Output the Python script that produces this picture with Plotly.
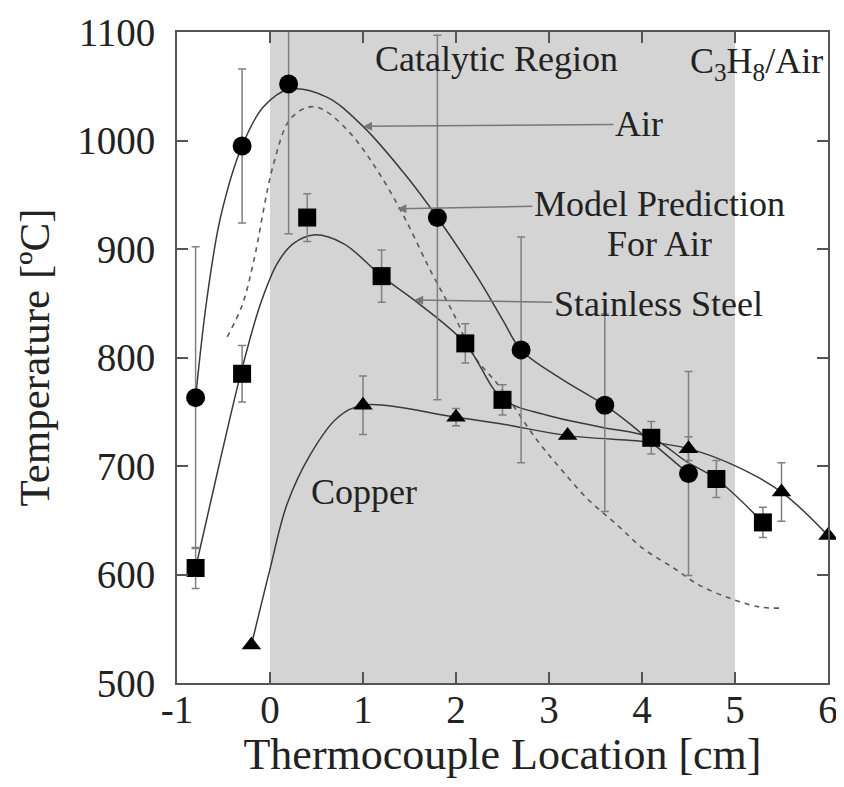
import plotly.graph_objects as go

air_x = [-0.8, -0.3, 0.2, 1.8, 2.7, 3.6, 4.5]
air_y = [763, 995, 1052, 929, 807, 756, 693]
air_err_plus = [139, 71, 138, 168, 104, 84, 94]
air_err_minus = [139, 71, 138, 168, 104, 98, 94]

ss_x = [-0.8, -0.3, 0.4, 1.2, 2.1, 2.5, 4.1, 4.8, 5.3]
ss_y = [606, 785, 929, 875, 813, 761, 726, 688, 648]
ss_err = [19, 26, 22, 24, 18, 14, 15, 17, 14]

cu_x = [-0.2, 1.0, 2.0, 3.2, 4.5, 5.5, 6.0]
cu_y = [535, 756, 745, 728, 716, 676, 636]
cu_err = [0, 27, 8, 0, 11, 27, 0]

# ---- fitted curves ----
air_fit_x = [-0.8, -0.68, -0.53, -0.3, -0.07, 0.2, 0.61, 1.0, 1.44, 1.8, 2.23, 2.5, 2.7, 3.12, 3.6, 3.91, 4.1, 4.5]
air_fit_y = [763, 853, 930, 995, 1031, 1047, 1040, 1013, 970, 929, 874, 835, 807, 781, 756, 736, 722, 693]

ss_fit_x = [-0.8, -0.55, -0.3, -0.1, 0.08, 0.25, 0.47, 0.79, 1.2, 1.58, 2.1, 2.5, 2.97, 3.55, 4.1, 4.48, 4.8, 5.3]
ss_fit_y = [606, 700, 790, 850, 887, 905, 913, 905, 875, 851, 813, 762, 747, 736, 726, 704, 688, 648]

cu_fit_x = [-0.2, 0.0, 0.18, 0.43, 0.72, 1.0, 2.0, 2.48, 3.2, 4.1, 4.5, 4.98, 5.5, 6.0]
cu_fit_y = [535, 605, 664, 710, 744, 756, 745, 739, 728, 722, 716, 701, 676, 636]

model_x = [-0.46, -0.3, -0.18, 0.04, 0.22, 0.43, 0.58, 0.86, 1.15, 1.44, 1.72, 1.97, 2.19, 2.48, 2.87, 3.12, 3.41, 3.73, 4.01, 4.34, 4.62, 4.98, 5.27, 5.48]
model_y = [819, 848, 887, 979, 1020, 1031, 1028, 1007, 973, 930, 881, 841, 802, 772, 724, 698, 670, 646, 624, 606, 590, 577, 570, 569]

x_ticks = [-1, 0, 1, 2, 3, 4, 5, 6]
y_ticks = [500, 600, 700, 800, 900, 1000, 1100]
catalytic_start, catalytic_end = 0, 5

FONT = "Liberation Serif, Times New Roman, serif"
LINE = "#3a3a3a"
ERR = "#808080"
TXT = "#222222"

fig = go.Figure()

# curves
fig.add_trace(go.Scatter(x=model_x, y=model_y, mode="lines",
                         line=dict(color="#5a5a5a", width=1.6, dash="5px,5px", shape="spline", smoothing=1.0),
                         hoverinfo="skip", showlegend=False))
for fx, fy in [(air_fit_x, air_fit_y), (ss_fit_x, ss_fit_y), (cu_fit_x, cu_fit_y)]:
    fig.add_trace(go.Scatter(x=fx, y=fy, mode="lines",
                             line=dict(color=LINE, width=1.5, shape="spline", smoothing=1.0),
                             hoverinfo="skip", showlegend=False))

# markers with error bars
fig.add_trace(go.Scatter(x=air_x, y=air_y, mode="markers",
                         marker=dict(symbol="circle", size=19, color="black"),
                         error_y=dict(type="data", array=air_err_plus, arrayminus=air_err_minus,
                                      symmetric=False, color=ERR, thickness=1.5, width=4),
                         showlegend=False))
fig.add_trace(go.Scatter(x=ss_x, y=ss_y, mode="markers",
                         marker=dict(symbol="square", size=18, color="black"),
                         error_y=dict(type="data", array=ss_err, color=ERR, thickness=1.5, width=4),
                         showlegend=False))
fig.add_trace(go.Scatter(x=cu_x, y=cu_y, mode="markers", cliponaxis=False,
                         marker=dict(symbol="triangle-up", size=17, color="black"),
                         error_y=dict(type="data", array=cu_err, color=ERR, thickness=1.5, width=4),
                         showlegend=False))

# catalytic region shading
fig.add_shape(type="rect", xref="x", yref="paper", x0=catalytic_start, x1=catalytic_end, y0=0, y1=1,
              fillcolor="#d4d4d4", line=dict(width=0), layer="below")

ann_font = dict(family=FONT, size=36, color=TXT)
arrow = dict(showarrow=True, arrowhead=2, arrowsize=1.2, arrowwidth=1.5, arrowcolor="#777777")
fig.add_annotation(x=1.0, y=1013, text="Air", ax=276, ay=-2, font=ann_font, **arrow)
fig.add_annotation(x=1.37, y=937, text="Model Prediction", ax=262, ay=-5, font=ann_font, **arrow)
fig.add_annotation(x=4.19, y=905, text="For Air", showarrow=False, font=ann_font)
fig.add_annotation(x=1.55, y=853, text="Stainless Steel", ax=244, ay=4, font=ann_font, **arrow)
fig.add_annotation(x=1.01, y=676, text="Copper", showarrow=False, font=ann_font)
fig.add_annotation(x=2.44, y=1075, text="Catalytic Region", showarrow=False, font=ann_font)
fig.add_annotation(x=5.23, y=1071, text="C<sub>3</sub>H<sub>8</sub>/Air", showarrow=False, font=ann_font)

axis_common = dict(showline=True, linecolor="#555555", linewidth=2, mirror="ticks",
                   ticks="inside", ticklen=11, tickwidth=2, tickcolor="#555555",
                   showgrid=False, zeroline=False, automargin=False,
                   tickfont=dict(family=FONT, size=39, color=TXT))

fig.update_xaxes(range=[-1, 6], tickvals=x_ticks, ticktext=[str(v) for v in x_ticks],
                 ticklabelstandoff=-9,
                 title=dict(text="Thermocouple Location [cm]", font=dict(family=FONT, size=44, color=TXT), standoff=13),
                 **axis_common)
fig.update_yaxes(range=[500, 1100], tickvals=y_ticks, ticktext=[str(v) for v in y_ticks],
                 ticklabelstandoff=12,
                 title=dict(text="Temperature [ºC]", font=dict(family=FONT, size=43, color=TXT), standoff=14),
                 **axis_common)

# The page body has an 8px default margin; size the figure so the plot area lands
# at the same pixel position as in the reference inside the 844x787 window.
fig.update_layout(width=836, height=771, margin=dict(l=169, r=16, t=24, b=96),
                  plot_bgcolor="white", paper_bgcolor="white", showlegend=False)

fig.write_html("out.html")
